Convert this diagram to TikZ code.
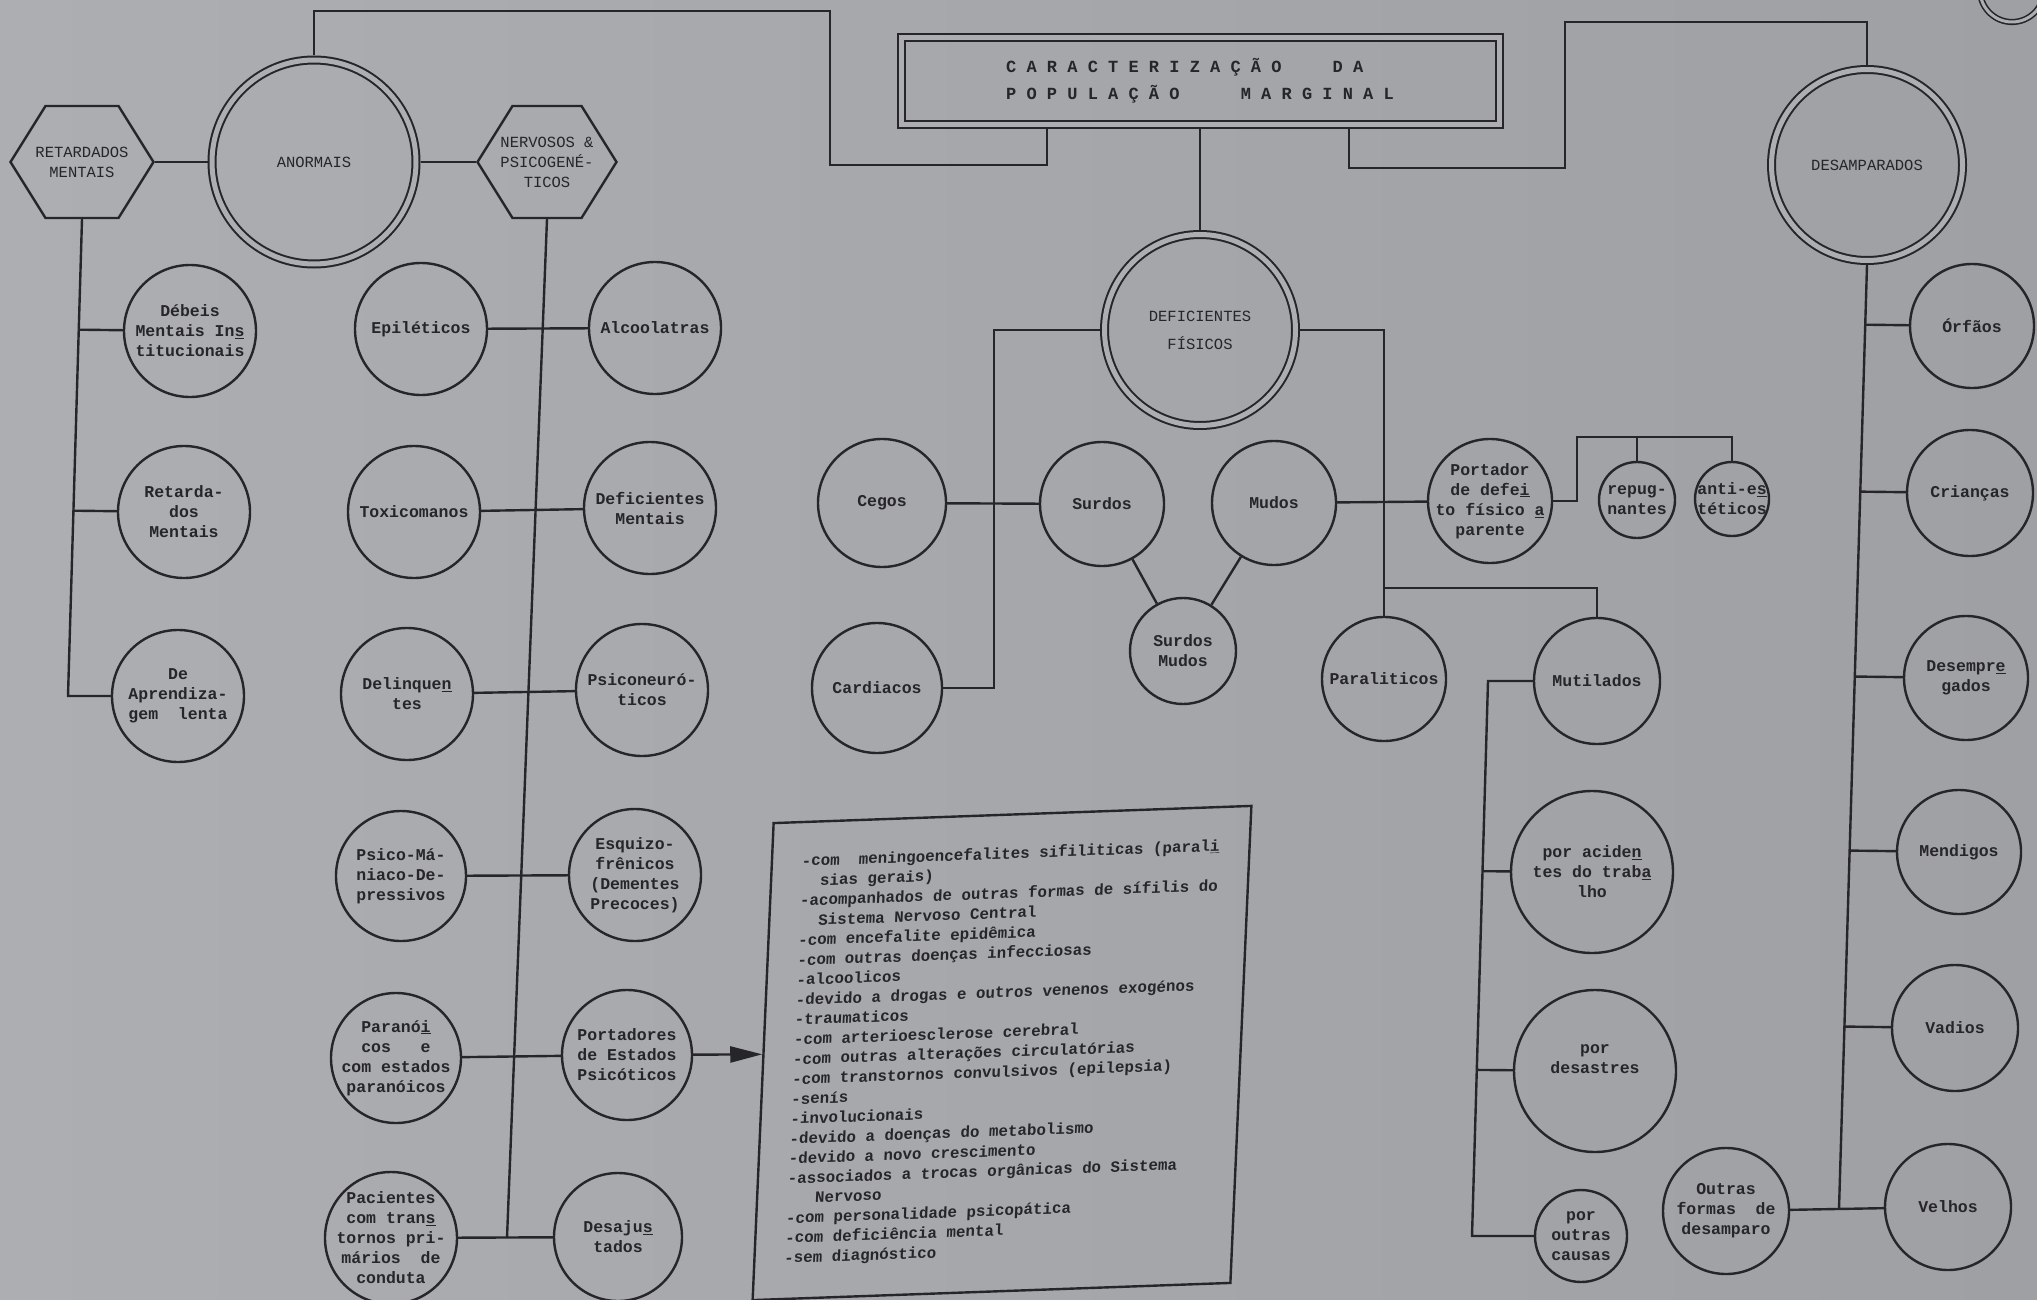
\documentclass[tikz,border=0pt]{standalone}
\usepackage{fontspec}
\newfontfamily\typer{Liberation Mono}
\usetikzlibrary{shapes.symbols,arrows.meta,calc}
\definecolor{paper}{RGB}{172,174,178}
\definecolor{paperdark}{RGB}{158,160,164}
\definecolor{ink}{RGB}{38,38,42}

\tikzset{
  wire/.style={draw=ink, line width=2.4pt},
  blob/.style={circle, draw=ink, line width=2.4pt, inner sep=0pt, minimum size=#1},
  bigblob/.style={circle, draw=ink, line width=2pt, double=paper, double distance=5pt,
    inner sep=0pt, outer sep=4.5pt, minimum size=#1},
  hexa/.style={signal, signal to=east and west, signal pointer angle=116, draw=ink,
    line width=2.4pt, inner sep=0pt, minimum width=#1, minimum height=112pt},
  lbl/.style={font=\typer\bfseries\fontsize{16.5}{20}\selectfont, text=ink, align=center, inner sep=0pt},
  caps/.style={font=\typer\fontsize{15.5}{20}\selectfont, text=ink, align=center, inner sep=0pt},
}

\begin{document}
\begin{tikzpicture}[x=1pt, y=-1pt]
  \shade[left color=paper, right color=paperdark] (0,0) rectangle (2037,1300);
  \useasboundingbox (0,0) rectangle (2037,1300);

  % title
  \node[draw=ink, line width=2pt, double=paper, double distance=5pt, outer sep=4.5pt,
        minimum width=598pt, minimum height=87pt, inner sep=0pt,
        font=\typer\bfseries\fontsize{17}{27}\selectfont, text=ink, align=left] (title) at (1200,81)
       {C A R A C T E R I Z A Ç Ã O~~~~~D A\\P O P U L A Ç Ã O~~~~~~M A R G I N A L};

  % anormais
  \node[hexa=143, label={[caps]center:{RETARDADOS\\MENTAIS}}] (hexRet) at (82,162) {};
  \node[bigblob=204, label={[caps]center:ANORMAIS}] (anormais) at (314,162) {};
  \node[hexa=139, label={[caps]center:{NERVOSOS \&\\PSICOGENÉ-\\TICOS}}] (hexNerv) at (547,162) {};

  \node[blob=132, label={[lbl]center:{Débeis\\Mentais In\underline{s}\\titucionais}}] (debeis) at (190,331) {};
  \node[blob=132, label={[lbl]center:{Retarda-\\dos\\Mentais}}] (retMent) at (184,512) {};
  \node[blob=132, label={[lbl]center:{De\\Aprendiza-\\gem~ lenta}}] (aprend) at (178,696) {};

  \node[blob=132, label={[lbl]center:Epiléticos}] (epil) at (421,329) {};
  \node[blob=132, label={[lbl]center:Alcoolatras}] (alcool) at (655,328) {};
  \node[blob=132, label={[lbl]center:Toxicomanos}] (toxic) at (414,512) {};
  \node[blob=132, label={[lbl]center:{Deficientes\\Mentais}}] (defMent) at (650,508) {};
  \node[blob=132, label={[lbl]center:{Delinque\underline{n}\\tes}}] (delinq) at (407,694) {};
  \node[blob=132, label={[lbl]center:{Psiconeuró-\\ticos}}] (psiconeur) at (642,690) {};
  \node[blob=130, label={[lbl]center:{Psico-Má-\\niaco-De-\\pressivos}}] (psicoMan) at (401,876) {};
  \node[blob=132, label={[lbl]center:{Esquizo-\\frênicos\\(Dementes\\Precoces)}}] (esquizo) at (635,875) {};
  \node[blob=130, label={[lbl]center:{Paranó\underline{i}\\cos~~ e\\com estados\\paranóicos}}] (paran) at (396,1058) {};
  \node[blob=130, label={[lbl]center:{Portadores\\de Estados\\Psicóticos}}] (portEst) at (627,1055) {};
  \node[blob=132, label={[lbl]center:{Pacientes\\com tran\underline{s}\\tornos pri-\\mários~ de\\conduta}}] (pacient) at (391,1238) {};
  \node[blob=128, label={[lbl]center:{Desaju\underline{s}\\tados}}] (desaj) at (618,1237) {};

  % deficientes fisicos
  \node[bigblob=191, label={[caps]center:{DEFICIENTES\\[8pt]FÍSICOS}}] (defFis) at (1200,330) {};
  \node[blob=128, label={[lbl]center:Cegos}] (cegos) at (882,503) {};
  \node[blob=124, label={[lbl]center:Surdos}] (surdos) at (1102,504) {};
  \node[blob=124, label={[lbl]center:Mudos}] (mudos) at (1274,503) {};
  \node[blob=106, label={[lbl]center:{Surdos\\Mudos}}] (surdMud) at (1183,651) {};
  \node[blob=130, label={[lbl]center:Cardiacos}] (cardiac) at (877,688) {};
  \node[blob=124, label={[lbl]center:{Portador\\de defe\underline{i}\\to físico \underline{a}\\parente}}] (portador) at (1490,501) {};
  \node[blob=76, label={[lbl]center:{repug-\\nantes}}] (repug) at (1637,500) {};
  \node[blob=74, label={[lbl]center:{anti-e\underline{s}\\téticos}}] (antiEst) at (1732,499) {};
  \node[blob=124, label={[lbl]center:Paraliticos}] (paral) at (1384,679) {};
  \node[blob=126, label={[lbl]center:Mutilados}] (mutil) at (1597,681) {};
  \node[blob=162, label={[lbl]center:{por acide\underline{n}\\tes do trab\underline{a}\\lho}}] (acid) at (1592,872) {};
  \node[blob=162, label={[lbl, yshift=12pt]center:{por\\desastres}}] (desastr) at (1595,1071) {};
  \node[blob=92, label={[lbl]center:{por\\outras\\causas}}] (outrasC) at (1581,1236) {};

  % desamparados
  \node[bigblob=191, label={[caps]center:DESAMPARADOS}] (desamp) at (1867,165) {};
  \node[blob=124, label={[lbl]center:Órfãos}] (orfaos) at (1972,326) {};
  \node[blob=126, label={[lbl]center:Crianças}] (criancas) at (1970,493) {};
  \node[blob=124, label={[lbl]center:{Desempr\underline{e}\\gados}}] (desempr) at (1966,678) {};
  \node[blob=124, label={[lbl]center:Mendigos}] (mendigos) at (1959,852) {};
  \node[blob=126, label={[lbl]center:Vadios}] (vadios) at (1955,1028) {};
  \node[blob=126, label={[lbl]center:Velhos}] (velhos) at (1948,1207) {};
  \node[blob=126, label={[lbl]center:{Outras\\formas~ de\\desamparo}}] (outrasF) at (1726,1211) {};

  % psychotic list
  \node[draw=ink, line width=2.4pt, xslant=0.044, yslant=0.036, minimum width=477pt, minimum height=477pt,
        inner sep=0pt, font=\typer\bfseries\fontsize{15.8}{19.85}\selectfont, text=ink, align=left]
        (lista) at (1002,1053) {%
    -com~ meningoencefalites sifiliticas (paral\underline{i}\\
    \hspace*{19pt}sias gerais)\\
    -acompanhados de outras formas de sífilis do\\
    \hspace*{19pt}Sistema Nervoso Central\\
    -com encefalite epidêmica\\
    -com outras doenças infecciosas\\
    -alcoolicos\\
    -devido a drogas e outros venenos exogénos\\
    -traumaticos\\
    -com arterioesclerose cerebral\\
    -com outras alterações circulatórias\\
    -com transtornos convulsivos (epilepsia)\\
    -senís\\
    -involucionais\\
    -devido a doenças do metabolismo\\
    -devido a novo crescimento\\
    -associados a trocas orgânicas do Sistema\\
    \hspace*{28pt}Nervoso\\
    -com personalidade psicopática\\
    -com deficiência mental\\
    -sem diagnóstico};

  % kinks of the long connectors
  \coordinate (kinkA) at (830,11);
  \coordinate (kinkB) at (1047,165);
  \coordinate (kinkC) at (1349,168);
  \coordinate (kinkD) at (1565,22);
  \coordinate (retEnd) at (68,696);
  \coordinate (nervEnd) at (507,1238);
  \coordinate (defL) at (994,688);
  \coordinate (mutJoin) at (1384,588);
  \coordinate (pBr) at (1577,437);
  \coordinate (mutTop) at (1488,681);
  \coordinate (mutBot) at (1472,1236);
  \coordinate (desEnd) at (1839,1209);

  % draw diagram
  \draw[wire] (anormais.north) |- (kinkA) |- (kinkB) -- (kinkB |- title.south);
  \draw[wire] (kinkC |- title.south) -- (kinkC) -| (kinkD) -| (desamp.north);
  \draw[wire] (title) -- (defFis);

  \draw[wire] (hexRet) -- (anormais) -- (hexNerv);
  \draw[wire] (hexRet.south) -- (retEnd) -- (aprend);
  \draw[wire] ($(hexRet.south)!(debeis.west)!(retEnd)$) -- (debeis);
  \draw[wire] ($(hexRet.south)!(retMent.west)!(retEnd)$) -- (retMent);
  \draw[wire] (hexNerv.south) -- (nervEnd);
  \draw[wire] (epil) -- (alcool);
  \draw[wire] (toxic) -- (defMent);
  \draw[wire] (delinq) -- (psiconeur);
  \draw[wire] (psicoMan) -- (esquizo);
  \draw[wire] (paran) -- (portEst);
  \draw[wire] (pacient) -- (desaj);
  \draw[wire, -{Triangle[length=32pt, width=16pt]}] (portEst) -- (lista);

  \draw[wire] (defFis.west) -| (defL) -- (cardiac);
  \draw[wire] (cegos) -- (surdos);
  \draw[wire] (surdos) -- (surdMud) -- (mudos);
  \draw[wire] (mudos) -- (portador);
  \draw[wire] (defFis.east) -| (paral.north);
  \draw[wire] (mutJoin) -| (mutil.north);
  \draw[wire] (portador.east) -| (pBr) -| (antiEst.north);
  \draw[wire] (repug.north) -- (repug.north |- pBr);
  \draw[wire] (mutil.west) -- (mutTop) -- (mutBot) -- (outrasC);
  \draw[wire] ($(mutTop)!(acid.west)!(mutBot)$) -- (acid);
  \draw[wire] ($(mutTop)!(desastr.west)!(mutBot)$) -- (desastr);

  \draw[wire] (desamp.south) -- (desEnd);
  \foreach \kid in {orfaos,criancas,desempr,mendigos,vadios}
    \draw[wire] ($(desamp.south)!(\kid.west)!(desEnd)$) -- (\kid);
  \draw[wire] (outrasF) -- (velhos);

  % page mark
  \draw[ink, line width=1.6pt, double=paper, double distance=3pt] (2012,-10) circle[radius=32pt];
\end{tikzpicture}
\end{document}
